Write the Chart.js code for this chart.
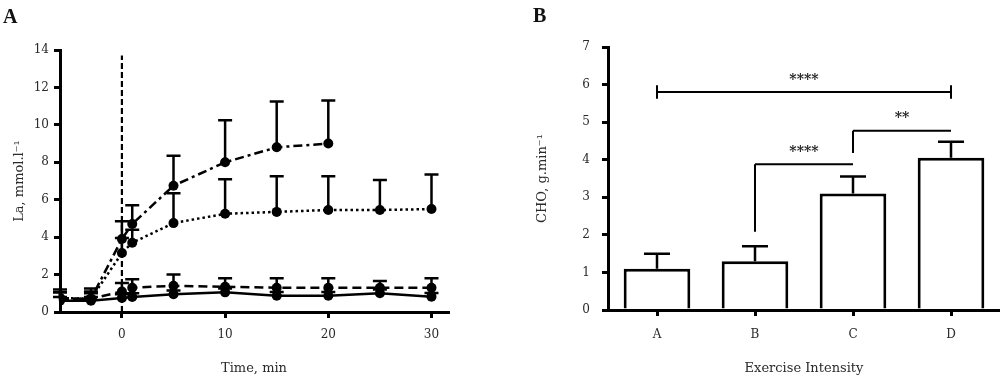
<!DOCTYPE html>
<html>
<head>
<meta charset="utf-8">
<script src="https://cdn.jsdelivr.net/npm/chart.js@4/dist/chart.umd.min.js"></script>
<style>
  html, body { margin: 0; padding: 0; background: #fff; }
  #wrap { position: relative; width: 1000px; height: 377px; }
  .panel { position: absolute; top: 0; width: 500px; height: 377px; }
  .tag { position: absolute; font: bold 20px "Liberation Serif", serif; color: #111; }
</style>
</head>
<body>
<div id="wrap">
  <div class="panel" style="left:0"><canvas id="la" width="500" height="377"></canvas></div>
  <div class="panel" style="left:500px"><canvas id="cho" width="500" height="377"></canvas></div>
  <div class="tag" style="left:3px;top:5px">A</div>
  <div class="tag" style="left:533px;top:4px">B</div>
</div>
<script>
'use strict';

// panel A: blood lactate over time
const time = [-6, -3, 0, 1, 5, 10, 15, 20, 25, 30];
const timeTicks = [0, 10, 20, 30];
const dashDotMean = [0.7, 0.7, 3.9, 4.7, 6.75, 8.0, 8.8, 9.0];
const dashDotErr = [0.5, 0.55, 0.95, 1.0, 1.6, 2.25, 2.45, 2.3];
const dottedMean = [0.75, 0.7, 3.15, 3.7, 4.75, 5.25, 5.35, 5.45, 5.45, 5.5];
const dottedErr = [0.3, 0.3, 0.8, 0.7, 1.6, 1.85, 1.9, 1.8, 1.6, 1.85];
const dashedMean = [0.75, 0.7, 1.1, 1.3, 1.4, 1.35, 1.3, 1.3, 1.3, 1.3];
const dashedErr = [0.3, 0.4, 0.45, 0.45, 0.6, 0.45, 0.5, 0.5, 0.35, 0.5];
const solidMean = [0.6, 0.6, 0.75, 0.8, 0.95, 1.05, 0.87, 0.87, 1.0, 0.82];
const solidErr = [0.2, 0.2, 0.2, 0.2, 0.2, 0.2, 0.2, 0.2, 0.2, 0.2];
const exerciseStart = 0;
const exerciseLineTop = 13.7;

// panel B: carbohydrate oxidation by intensity
const intensity = ['A', 'B', 'C', 'D'];
const choMean = [1.1, 1.3, 3.1, 4.05];
const choErr = [0.4, 0.4, 0.45, 0.43];
const sigFrom = ['A', 'B', 'C'];
const sigTo = ['D', 'C', 'D'];
const sigLevel = [5.8, 3.88, 4.77];
const sigLeftLeg = [[5.62, 5.98], [2.08, 3.88], [4.18, 4.77]];
const sigRightLeg = [[5.62, 5.98], [3.88, 3.88], [4.77, 4.77]];
const sigLabel = ['****', '****', '**'];

const serif = '"DejaVu Serif", "Liberation Serif", serif';
const tickFont = { family: serif, size: 12 };
const titleFont = { family: serif, size: 13 };
const ink = '#2a2a2a';

const pts = (xs, ys) => ys.map((y, i) => ({ x: xs[i], y }));

const errorBars = {
  id: 'errorBars',
  afterDatasetsDraw(chart) {
    const ctx = chart.ctx;
    const ys = chart.scales.y;
    const area = chart.chartArea;
    chart.data.datasets.forEach((ds, i) => {
      if (!ds.errors) return;
      const meta = chart.getDatasetMeta(i);
      ctx.save();
      ctx.beginPath();
      ctx.rect(area.left - 8, 0, area.right - area.left + 16, chart.height);
      ctx.clip();
      ctx.strokeStyle = '#000';
      ctx.lineWidth = 2.5;
      meta.data.forEach((el, j) => {
        const v = meta.controller.getParsed(j).y;
        const top = ys.getPixelForValue(v + ds.errors[j]);
        ctx.beginPath();
        ctx.moveTo(el.x, el.y);
        ctx.lineTo(el.x, top);
        ctx.moveTo(el.x - ds.capHalf, top);
        ctx.lineTo(el.x + ds.capHalf, top);
        ctx.stroke();
      });
      ctx.restore();
    });
  }
};

const brackets = {
  id: 'brackets',
  afterDatasetsDraw(chart) {
    const ctx = chart.ctx;
    const xs = chart.scales.x;
    const ys = chart.scales.y;
    ctx.save();
    ctx.strokeStyle = '#000';
    ctx.fillStyle = '#222';
    ctx.lineWidth = 2;
    ctx.font = 'bold 14px ' + serif;
    ctx.textAlign = 'center';
    ctx.textBaseline = 'middle';
    sigLabel.forEach((lab, k) => {
      const x0 = xs.getPixelForValue(intensity.indexOf(sigFrom[k]));
      const x1 = xs.getPixelForValue(intensity.indexOf(sigTo[k]));
      const y = ys.getPixelForValue(sigLevel[k]);
      ctx.beginPath();
      ctx.moveTo(x0, y);
      ctx.lineTo(x1, y);
      ctx.moveTo(x0, ys.getPixelForValue(sigLeftLeg[k][0]));
      ctx.lineTo(x0, ys.getPixelForValue(sigLeftLeg[k][1]));
      ctx.moveTo(x1, ys.getPixelForValue(sigRightLeg[k][0]));
      ctx.lineTo(x1, ys.getPixelForValue(sigRightLeg[k][1]));
      ctx.stroke();
      ctx.fillText(lab, (x0 + x1) / 2, y - 12);
    });
    ctx.restore();
  }
};

function axis(extra) {
  return Object.assign({
    grid: { drawOnChartArea: false, tickLength: 6, lineWidth: 3, color: '#000' },
    border: { width: 3, color: '#000' },
  }, extra);
}

const lineStyle = (dash) => ({
  borderColor: '#000',
  borderWidth: 2.5,
  borderDash: dash,
  pointRadius: 5,
  pointBackgroundColor: '#000',
  pointBorderWidth: 0,
  capHalf: 7,
});

new Chart(document.getElementById('la'), {
  type: 'line',
  data: {
    datasets: [
      { data: [{ x: exerciseStart, y: 0 }, { x: exerciseStart, y: exerciseLineTop }],
        borderColor: '#000', borderWidth: 2.2, borderDash: [6, 3], pointRadius: 0 },
      Object.assign({ data: pts(time, dashDotMean), errors: dashDotErr }, lineStyle([9, 4, 3, 4])),
      Object.assign({ data: pts(time, dottedMean), errors: dottedErr }, lineStyle([2.5, 3])),
      Object.assign({ data: pts(time, dashedMean), errors: dashedErr }, lineStyle([9, 5])),
      Object.assign({ data: pts(time, solidMean), errors: solidErr }, lineStyle([])),
    ]
  },
  options: {
    responsive: false,
    animation: false,
    devicePixelRatio: 1,
    layout: { padding: { left: 0, right: 52, top: 50, bottom: 0 } },
    plugins: { legend: { display: false }, tooltip: { enabled: false } },
    scales: {
      x: axis({
        type: 'linear', min: -6, max: 31.6,
        afterBuildTicks: s => { s.ticks = timeTicks.map(v => ({ value: v })); },
        afterFit: s => { s.height = 65; },
        ticks: { font: tickFont, color: ink, padding: 10, maxRotation: 0 },
        title: { display: true, text: 'Time, min', font: titleFont, color: ink, padding: { top: 4, bottom: 1 } },
      }),
      y: axis({
        min: 0, max: 14,
        afterFit: s => { s.width = 60; },
        ticks: { stepSize: 2, font: tickFont, color: ink, padding: 5 },
        title: { display: true, text: 'La, mmol.l⁻¹', font: titleFont, color: ink, padding: { top: 12, bottom: 0 } },
      }),
    }
  },
  plugins: [errorBars]
});

new Chart(document.getElementById('cho'), {
  type: 'bar',
  data: {
    labels: intensity,
    datasets: [{
      data: choMean,
      errors: choErr,
      capHalf: 13,
      backgroundColor: '#fff',
      borderColor: '#000',
      borderWidth: 3,
      barPercentage: 0.68,
      categoryPercentage: 1,
    }]
  },
  options: {
    responsive: false,
    animation: false,
    devicePixelRatio: 1,
    layout: { padding: { left: 0, right: 0, top: 47, bottom: 0 } },
    plugins: { legend: { display: false }, tooltip: { enabled: false } },
    scales: {
      x: axis({
        offset: true,
        grid: { drawOnChartArea: false, tickLength: 6, lineWidth: 3, color: '#000', offset: false },
        afterFit: s => { s.height = 67; },
        ticks: { font: tickFont, color: ink, padding: 12 },
        title: { display: true, text: 'Exercise Intensity', font: titleFont, color: ink, padding: { top: 4, bottom: 1 } },
      }),
      y: axis({
        min: 0, max: 7,
        afterFit: s => { s.width = 108; },
        ticks: { stepSize: 1, font: tickFont, color: ink, padding: 12 },
        title: { display: true, text: 'CHO, g.min⁻¹', font: titleFont, color: ink, padding: { top: 35, bottom: 0 } },
      }),
    }
  },
  plugins: [errorBars, brackets]
});
</script>
</body>
</html>
